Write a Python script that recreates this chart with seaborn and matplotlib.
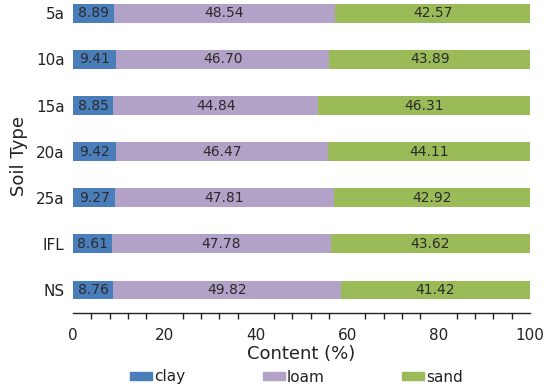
import matplotlib
matplotlib.use("Agg")
import matplotlib.pyplot as plt
import seaborn as sns
import pandas as pd
import numpy as np
from matplotlib.ticker import MultipleLocator
from matplotlib.patches import Patch

soil_types = ["5a", "10a", "15a", "20a", "25a", "IFL", "NS"]
clay = [8.89, 9.41, 8.85, 9.42, 9.27, 8.61, 8.76]
loam = [48.54, 46.70, 44.84, 46.47, 47.81, 47.78, 49.82]
sand = [42.57, 43.89, 46.31, 44.11, 42.92, 43.62, 41.42]
components = ["clay", "loam", "sand"]

c_clay = "#4a7ebb"
c_loam = "#b3a2c7"
c_sand = "#9bbb59"
colors = [c_clay, c_loam, c_sand]

sns.set_style("white")
plt.rcParams["font.family"] = ["DejaVu Sans"]

df = pd.DataFrame({"type": soil_types, "clay": clay, "loam": loam, "sand": sand})
df["cl"] = df["clay"] + df["loam"]
df["total"] = df["cl"] + df["sand"]

fig = plt.figure(figsize=(5.5, 3.87), dpi=100)
ax = fig.add_axes([73/550, 1 - 313/387, (530-73)/550, 313/387])

w = 0.41
sns.barplot(data=df, y="type", x="total", color=c_sand, width=w, orient="h", ax=ax, saturation=1, linewidth=0)
sns.barplot(data=df, y="type", x="cl", color=c_loam, width=w, orient="h", ax=ax, saturation=1, linewidth=0)
sns.barplot(data=df, y="type", x="clay", color=c_clay, width=w, orient="h", ax=ax, saturation=1, linewidth=0)

tc = "#2b2b2b"
for i in range(len(df)):
    ax.text(df["clay"][i] / 2, i, f"{df['clay'][i]:.2f}", ha="center", va="center", fontsize=10, color=tc)
    ax.text(df["clay"][i] + df["loam"][i] / 2, i, f"{df['loam'][i]:.2f}", ha="center", va="center", fontsize=10, color=tc)
    ax.text(df["cl"][i] + df["sand"][i] / 2, i, f"{df['sand'][i]:.2f}", ha="center", va="center", fontsize=10, color=tc)

ax.set_xlim(0, 100)
ax.set_ylim(6.5, -0.29)
ax.xaxis.set_major_locator(MultipleLocator(20))
ax.xaxis.set_minor_locator(MultipleLocator(4))
ax.tick_params(axis="x", which="major", direction="out", length=6, width=1, color="#222222", labelsize=11, labelcolor="#222222", pad=5)
ax.tick_params(axis="x", which="minor", direction="out", length=4, width=1, color="#222222", bottom=True)
ax.tick_params(axis="y", length=0, labelsize=11, labelcolor="#222222", pad=6)
for s in ["top", "right", "left"]:
    ax.spines[s].set_visible(False)
ax.spines["bottom"].set_color("#222222")
ax.spines["bottom"].set_linewidth(1)

ax.set_xlabel("Content (%)", fontsize=13, color="#222222", labelpad=1)
ax.set_ylabel("Soil Type", fontsize=13, color="#222222", labelpad=6)

handles = [Patch(color=c) for c in colors]
fig.legend(handles, components, loc="center left", ncol=3,
           bbox_to_anchor=(130 / 550, 1 - 377 / 387), borderaxespad=0, borderpad=0,
           frameon=False, fontsize=11, handlelength=1.45, handleheight=0.5,
           handletextpad=0.1, columnspacing=5.1, labelcolor="#222222")

fig.savefig("out.png", dpi=100)
